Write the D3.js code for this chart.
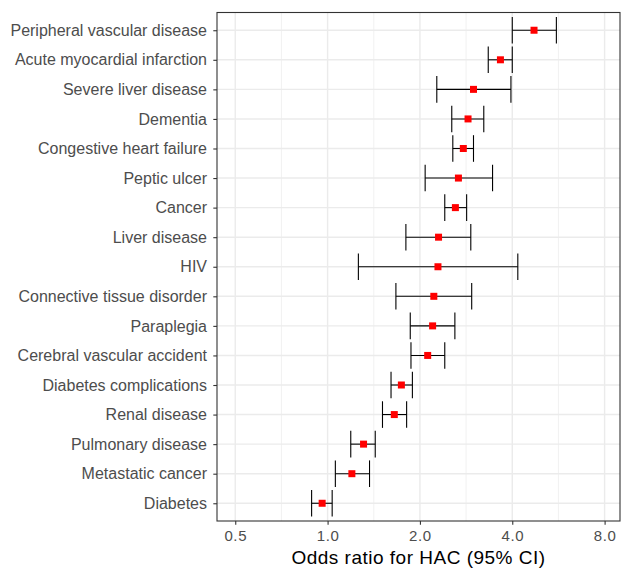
<!DOCTYPE html>
<html>
<head>
<meta charset="utf-8">
<script src="https://cdn.jsdelivr.net/npm/d3@7"></script>
<style>
  body { margin: 0; background: #fff; }
  text { font-family: "Liberation Sans", Arial, sans-serif; }
</style>
</head>
<body>
<div id="plot"></div>
<script>
// conditions, top to bottom
const conditions = [
    "Peripheral vascular disease", "Acute myocardial infarction", "Severe liver disease",
    "Dementia", "Congestive heart failure", "Peptic ulcer", "Cancer", "Liver disease", "HIV",
    "Connective tissue disorder", "Paraplegia", "Cerebral vascular accident",
    "Diabetes complications", "Renal disease", "Pulmonary disease", "Metastatic cancer", "Diabetes"
];
const oddsRatio = [4.71, 3.66, 2.99, 2.87, 2.77, 2.67, 2.61, 2.30, 2.29, 2.22, 2.20, 2.12, 1.74, 1.65, 1.31, 1.20, 0.96];
const ciLow     = [4.00, 3.34, 2.27, 2.54, 2.56, 2.08, 2.41, 1.80, 1.26, 1.67, 1.86, 1.87, 1.61, 1.51, 1.19, 1.06, 0.887];
const ciHigh    = [5.57, 4.00, 3.96, 3.23, 2.99, 3.45, 2.84, 2.93, 4.17, 2.95, 2.60, 2.41, 1.89, 1.81, 1.43, 1.37, 1.035];
const xTicks = [0.5, 1, 2, 4, 8];
const xMinor = [0.7071, 1.4142, 2.8284, 5.6569];

const data = conditions.map((c, i) => ({name: c, or: oddsRatio[i], lo: ciLow[i], hi: ciHigh[i]}));

const margin = {top: 12.5, right: 1, bottom: 49, left: 217},
    width = 621 - margin.left - margin.right,
    height = 570 - margin.top - margin.bottom;

const svg = d3.select("#plot")
    .append("svg")
    .attr("width", 621)
    .attr("height", 570)
    .append("g")
    .attr("transform", `translate(${margin.left},${margin.top})`);

const x = d3.scaleLog()
    .base(2)
    .domain([0.436, 8.98])
    .range([0, width]);

// ggplot style discrete axis: 0.6 expansion each side
const step = height / (conditions.length - 1 + 1.2);
const y = d3.scalePoint()
    .domain(conditions)
    .range([0.6 * step, height - 0.6 * step]);

// grid
svg.selectAll(".minor")
    .data(xMinor)
    .enter().append("line")
    .attr("x1", d => x(d)).attr("x2", d => x(d))
    .attr("y1", 0).attr("y2", height)
    .attr("stroke", "#ebebeb").attr("stroke-width", 0.7);

svg.selectAll(".majorx")
    .data(xTicks)
    .enter().append("line")
    .attr("x1", d => x(d)).attr("x2", d => x(d))
    .attr("y1", 0).attr("y2", height)
    .attr("stroke", "#ebebeb").attr("stroke-width", 1.4);

svg.selectAll(".majory")
    .data(conditions)
    .enter().append("line")
    .attr("x1", 0).attr("x2", width)
    .attr("y1", d => y(d)).attr("y2", d => y(d))
    .attr("stroke", "#ebebeb").attr("stroke-width", 1.4);

// error bars
const capH = step * 0.9;
const bars = svg.selectAll(".bar")
    .data(data)
    .enter().append("g")
    .attr("stroke", "#000")
    .attr("stroke-width", 1.1);

bars.append("line")
    .attr("x1", d => x(d.lo)).attr("x2", d => x(d.hi))
    .attr("y1", d => y(d.name)).attr("y2", d => y(d.name));
bars.append("line")
    .attr("x1", d => x(d.lo)).attr("x2", d => x(d.lo))
    .attr("y1", d => y(d.name) - capH / 2).attr("y2", d => y(d.name) + capH / 2);
bars.append("line")
    .attr("x1", d => x(d.hi)).attr("x2", d => x(d.hi))
    .attr("y1", d => y(d.name) - capH / 2).attr("y2", d => y(d.name) + capH / 2);

// points
const ps = 7;
svg.selectAll(".pt")
    .data(data)
    .enter().append("rect")
    .attr("x", d => x(d.or) - ps / 2)
    .attr("y", d => y(d.name) - ps / 2)
    .attr("width", ps)
    .attr("height", ps)
    .attr("fill", "#ff0000");

// axes
const xAxis = svg.append("g")
    .attr("transform", `translate(0,${height})`)
    .call(d3.axisBottom(x).tickValues(xTicks).tickFormat(d3.format(".1f")).tickSizeInner(3.7).tickSizeOuter(0));
const yAxis = svg.append("g")
    .call(d3.axisLeft(y).tickSizeInner(3.7).tickSizeOuter(0));

[xAxis, yAxis].forEach(a => {
    a.select(".domain").remove();
    a.selectAll(".tick line").attr("stroke", "#333").attr("stroke-width", 1.1);
    a.selectAll(".tick text")
        .attr("fill", "#4d4d4d")
        .style("font-family", '"Liberation Sans", Arial, sans-serif');
});
xAxis.selectAll(".tick text")
    .style("font-size", "15px")
    .style("letter-spacing", "0.6px")
    .attr("dy", "0.9em");
yAxis.selectAll(".tick text")
    .style("font-size", "16px")
    .attr("x", -10);

// panel border
svg.append("rect")
    .attr("x", 0).attr("y", 0)
    .attr("width", width).attr("height", height)
    .attr("fill", "none")
    .attr("stroke", "#333")
    .attr("stroke-width", 1.1);

svg.append("text")
    .attr("x", width / 2)
    .attr("y", height + 42.5)
    .attr("text-anchor", "middle")
    .style("font-size", "19px")
    .style("letter-spacing", "0.5px")
    .attr("fill", "#000")
    .text("Odds ratio for HAC (95% CI)");
</script>
</body>
</html>
